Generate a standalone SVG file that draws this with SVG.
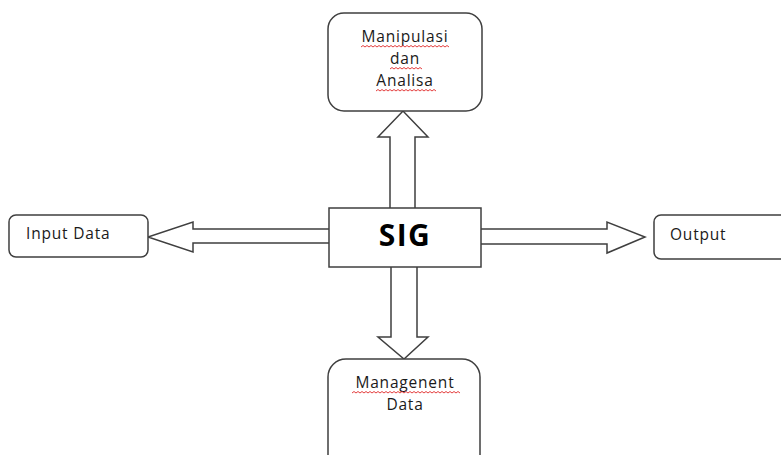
<svg xmlns="http://www.w3.org/2000/svg" width="781" height="455" viewBox="0 0 781 455">
  <style>
    .box { fill: #ffffff; stroke: #3f3f3f; stroke-width: 1.5; }
    .arrow { fill: #ffffff; stroke: #3f3f3f; stroke-width: 1.5; stroke-linejoin: miter; }
    .label { font-family: "Open Sans", "Noto Sans", sans-serif; font-size: 15.5px; letter-spacing: 0.8px; fill: #1a1a1a; }
    .title { font-family: "Open Sans", "Noto Sans", sans-serif; font-size: 30px; font-weight: bold; letter-spacing: 1.5px; fill: #000000; }
    .wave { fill: none; stroke: #e02828; stroke-width: 0.9; }
  </style>

  <!-- connectors: block arrows -->
  <g id="connectors">
    <!-- SIG to Manipulasi dan Analisa -->
    <path class="arrow" d="M390,208 L390,137 L378,137 L403,111 L428,137 L415,137 L415,208"/>
    <!-- SIG to Managenent Data -->
    <path class="arrow" d="M391,267 L391,337 L378,337 L404,359 L428,337 L417,337 L417,267"/>
    <!-- SIG to Input Data -->
    <path class="arrow" d="M329,229 L193,229 L193,222 L148,237 L193,252 L193,243 L329,243"/>
    <!-- SIG to Output -->
    <path class="arrow" d="M481,229 L607,229 L607,222 L645,237 L607,253 L607,244 L481,244"/>
  </g>

  <g id="manipulasi">
    <rect class="box" x="328" y="13" width="154" height="98" rx="16"/>
    <text class="label" x="405" y="42" text-anchor="middle">Manipulasi</text>
    <text class="label" x="405" y="64" text-anchor="middle">dan</text>
    <text class="label" x="405" y="86" text-anchor="middle">Analisa</text>
    <!-- spell-check style wavy underlines -->
    <path class="wave" d="M361,47 l2,-1.5 l2,1.5 l2,-1.5 l2,1.5 l2,-1.5 l2,1.5 l2,-1.5 l2,1.5 l2,-1.5 l2,1.5 l2,-1.5 l2,1.5 l2,-1.5 l2,1.5 l2,-1.5 l2,1.5 l2,-1.5 l2,1.5 l2,-1.5 l2,1.5 l2,-1.5 l2,1.5 l2,-1.5 l2,1.5 l2,-1.5 l2,1.5 l2,-1.5 l2,1.5 l2,-1.5 l2,1.5 l2,-1.5 l2,1.5 l2,-1.5 l2,1.5 l2,-1.5 l2,1.5 l2,-1.5 l2,1.5 l2,-1.5 l2,1.5 l2,-1.5 l2,1.5 l2,-1.5 l2,1.5"/>
    <path class="wave" d="M390,69 l2,-1.5 l2,1.5 l2,-1.5 l2,1.5 l2,-1.5 l2,1.5 l2,-1.5 l2,1.5 l2,-1.5 l2,1.5 l2,-1.5 l2,1.5 l2,-1.5 l2,1.5 l2,-1.5 l2,1.5"/>
    <path class="wave" d="M376,91 l2,-1.5 l2,1.5 l2,-1.5 l2,1.5 l2,-1.5 l2,1.5 l2,-1.5 l2,1.5 l2,-1.5 l2,1.5 l2,-1.5 l2,1.5 l2,-1.5 l2,1.5 l2,-1.5 l2,1.5 l2,-1.5 l2,1.5 l2,-1.5 l2,1.5 l2,-1.5 l2,1.5 l2,-1.5 l2,1.5 l2,-1.5 l2,1.5 l2,-1.5 l2,1.5 l2,-1.5 l2,1.5"/>
  </g>

  <g id="sig">
    <rect class="box" x="329" y="208" width="152" height="59"/>
    <text class="title" x="405" y="246" text-anchor="middle">SIG</text>
  </g>

  <g id="input-data">
    <rect class="box" x="9" y="215" width="139" height="42" rx="7"/>
    <text class="label" x="26" y="239">Input Data</text>
  </g>

  <g id="output">
    <rect class="box" x="654" y="215" width="140" height="44" rx="7"/>
    <text class="label" x="670" y="240">Output</text>
  </g>

  <g id="managenent-data">
    <rect class="box" x="328" y="359" width="152" height="120" rx="18"/>
    <text class="label" x="405" y="388" text-anchor="middle">Managenent</text>
    <text class="label" x="405" y="410" text-anchor="middle">Data</text>
    <path class="wave" d="M352,393 l2,-1.5 l2,1.5 l2,-1.5 l2,1.5 l2,-1.5 l2,1.5 l2,-1.5 l2,1.5 l2,-1.5 l2,1.5 l2,-1.5 l2,1.5 l2,-1.5 l2,1.5 l2,-1.5 l2,1.5 l2,-1.5 l2,1.5 l2,-1.5 l2,1.5 l2,-1.5 l2,1.5 l2,-1.5 l2,1.5 l2,-1.5 l2,1.5 l2,-1.5 l2,1.5 l2,-1.5 l2,1.5 l2,-1.5 l2,1.5 l2,-1.5 l2,1.5 l2,-1.5 l2,1.5 l2,-1.5 l2,1.5 l2,-1.5 l2,1.5 l2,-1.5 l2,1.5 l2,-1.5 l2,1.5 l2,-1.5 l2,1.5 l2,-1.5 l2,1.5 l2,-1.5 l2,1.5 l2,-1.5 l2,1.5 l2,-1.5 l2,1.5"/>
  </g>
</svg>
